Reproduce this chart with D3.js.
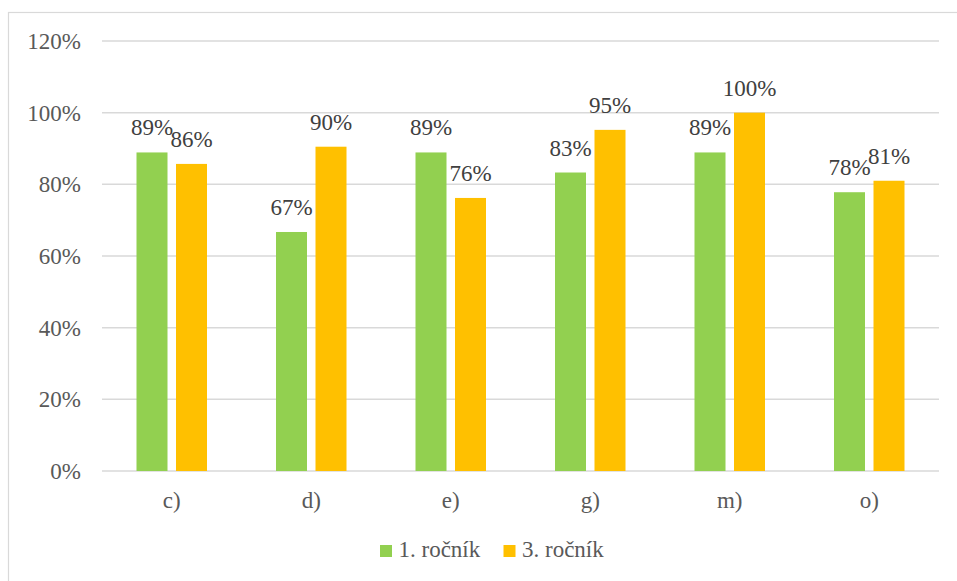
<!DOCTYPE html>
<html><head><meta charset="utf-8">
<script src="https://cdn.jsdelivr.net/npm/d3@7"></script>
<style>body{margin:0;background:#fff;} svg{display:block;} svg text{font-family:"Liberation Serif","Times New Roman",Times,"DejaVu Serif",serif !important;}</style>
</head><body>
<svg id="chart" width="957" height="581"></svg>
<script>
const categories = ["c)", "d)", "e)", "g)", "m)", "o)"];
const seriesNames = ["1. ročník", "3. ročník"];
const series1 = [0.889, 0.667, 0.889, 0.833, 0.889, 0.778];
const series3 = [0.857, 0.905, 0.762, 0.952, 1.0, 0.810];
const labels1 = ["89%", "67%", "89%", "83%", "89%", "78%"];
const labels3 = ["86%", "90%", "76%", "95%", "100%", "81%"];
const yTicks = [0, 0.2, 0.4, 0.6, 0.8, 1.0, 1.2];
const colors = ["#92D050", "#FFC000"];

const svg = d3.select("#chart");
const m = {left: 102, right: 939, top: 41, bottom: 471};

// outer border (cropped at right/bottom)
svg.append("rect").attr("x", 8.5).attr("y", 12.5).attr("width", 970).attr("height", 600)
  .attr("fill", "none").attr("stroke", "#d9d9d9").attr("stroke-width", 1.2);

const x = d3.scaleBand().domain(categories).range([m.left, m.right]).paddingInner(0).paddingOuter(0);
const y = d3.scaleLinear().domain([0, 1.2]).range([m.bottom, m.top]);

// gridlines
svg.append("g").selectAll("line").data(yTicks).join("line")
  .attr("x1", m.left).attr("x2", m.right)
  .attr("y1", d => y(d)).attr("y2", d => y(d))
  .attr("stroke", "#d9d9d9").attr("stroke-width", 1.5);

// y axis labels
const yAxis = d3.axisLeft(y).tickValues(yTicks).tickFormat(d3.format(".0%")).tickSize(0).tickPadding(0);
const yg = svg.append("g").attr("transform", `translate(${m.left - 21},0)`).call(yAxis);
yg.select(".domain").remove();
yg.selectAll("text").attr("font-size", 23).attr("fill", "#595959").attr("dy", "0.32em");

// x axis labels
const xAxis = d3.axisBottom(x).tickSize(0).tickPadding(0);
const xg = svg.append("g").attr("transform", `translate(0,${m.bottom + 21})`).call(xAxis);
xg.select(".domain").remove();
xg.selectAll("text").attr("font-size", 23).attr("fill", "#595959");

const barW = 31, gap = 8.5;
const sub = d3.scaleOrdinal().domain([0, 1]).range([-(gap / 2 + barW), gap / 2]);
const data = [series1, series3];
const lbls = [labels1, labels3];

data.forEach((vals, si) => {
  const g = svg.append("g");
  g.selectAll("rect").data(vals).join("rect")
    .attr("x", (d, i) => x(categories[i]) + x.bandwidth() / 2 + sub(si))
    .attr("width", barW)
    .attr("y", d => y(d))
    .attr("height", d => y(0) - y(d))
    .attr("fill", colors[si]);
  g.selectAll("text").data(vals).join("text")
    .attr("x", (d, i) => x(categories[i]) + x.bandwidth() / 2 + sub(si) + barW / 2)
    .attr("y", d => y(d) - 17)
    .attr("text-anchor", "middle")
    .attr("font-size", 23).attr("fill", "#404040")
    .text((d, i) => lbls[si][i]);
});

// legend
const legendX = [380, 503.5];
const lg = svg.append("g");
seriesNames.forEach((n, i) => {
  lg.append("rect").attr("x", legendX[i]).attr("y", 545).attr("width", 12).attr("height", 12).attr("fill", colors[i]);
  lg.append("text").attr("x", legendX[i] + 18.5).attr("y", 557)
    .attr("font-size", 23).attr("fill", "#595959").text(n);
});
</script>
</body></html>
